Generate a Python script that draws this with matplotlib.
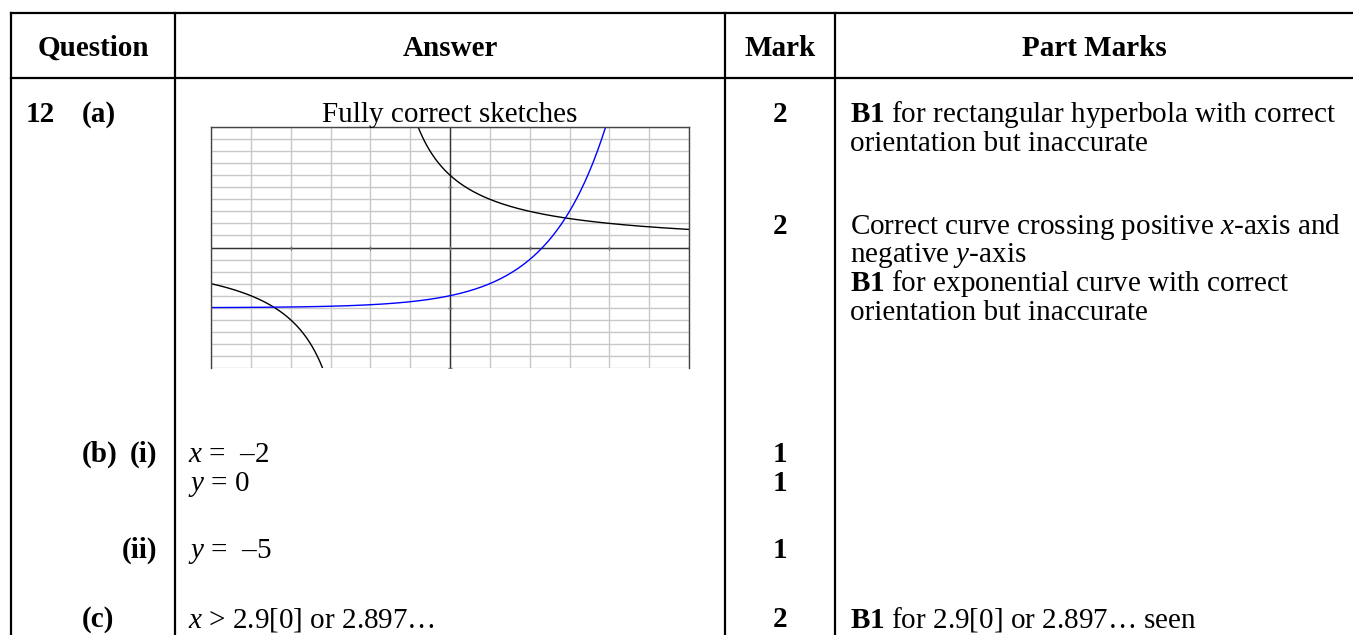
import numpy as np
import matplotlib
matplotlib.use("Agg")
import matplotlib.pyplot as plt
from matplotlib.lines import Line2D

plt.rcParams['font.family'] = ['Liberation Serif', 'DejaVu Serif']
plt.rcParams['mathtext.fontset'] = 'custom'
plt.rcParams['mathtext.rm'] = 'Liberation Serif'
plt.rcParams['mathtext.it'] = 'Liberation Serif:italic'
plt.rcParams['mathtext.bf'] = 'Liberation Serif:bold'

W, H = 1353, 635

# table content
headers = ['Question', 'Answer', 'Mark', 'Part Marks']
question_labels = ['12', '(a)', '(b)', '(i)', '(ii)', '(c)']
answer_lines = ['$\\mathit{x}$ =  –2', '$\\mathit{y}$ = 0', '$\\mathit{y}$ =  –5',
                '$\\mathit{x}$ > 2.9[0] or 2.897…']
marks = ['2', '2', '1', '1', '1', '2']
part_marks = ['$\\mathbf{B1}$ for rectangular hyperbola with correct',
              'orientation but inaccurate',
              'Correct curve crossing positive $\\mathit{x}$-axis and',
              'negative $\\mathit{y}$-axis',
              '$\\mathbf{B1}$ for exponential curve with correct',
              'orientation but inaccurate',
              '$\\mathbf{B1}$ for 2.9[0] or 2.897… seen']

# sketch: y = k/(x - a) and y = b**x + c
hyp_k = 12
hyp_asym_x = -2
exp_base = 2
exp_asym_y = -5
x_range = (-6, 6)
y_range = (-10, 10)

fig = plt.figure(figsize=(W / 100, H / 100), dpi=100)


def fx(x):
    return x / W


def fy(y):
    return 1 - y / H


def put(x, y, s, **kw):
    fig.text(fx(x), fy(y), s, fontsize=21, va='baseline', **kw)


# table rules
for x in [11, 175, 725, 835]:
    fig.add_artist(Line2D([fx(x), fx(x)], [fy(13), fy(H + 5)], color='black', lw=1.6))
for y in [13, 78]:
    fig.add_artist(Line2D([fx(11), fx(W + 5)], [fy(y), fy(y)], color='black', lw=1.6))

# header
head_x = [93, 450, 780, 1094]
for s, x in zip(headers, head_x):
    put(x, 56, s, ha='center', fontweight='bold')

# question column
put(26, 122, question_labels[0], fontweight='bold')
put(82, 122, question_labels[1], fontweight='bold')
put(82, 462, question_labels[2], fontweight='bold')
put(157, 462, question_labels[3], fontweight='bold', ha='right')
put(157, 558, question_labels[4], fontweight='bold', ha='right')
put(82, 627, question_labels[5], fontweight='bold')

# answer column
put(450, 122, 'Fully correct sketches', ha='center')
for s, y in zip(answer_lines, [462, 491, 558, 627]):
    put(188, y, s)

# mark column
for s, y in zip(marks, [122, 234, 462, 491, 558, 627]):
    put(780, y, s, ha='center', fontweight='bold')

# part marks column
for s, y in zip(part_marks, [122, 151, 234, 262, 291, 320, 627]):
    put(850, y, s)

# the embedded graph
ax = fig.add_axes([fx(211), fy(368), fx(689) - fx(211), fy(127) - fy(368)])
ax.set_xlim(*x_range)
ax.set_ylim(*y_range)
for gx in np.arange(x_range[0], x_range[1] + 1):
    ax.axvline(gx, color='#c8c8c8', lw=1.0, zorder=0)
for gy in np.arange(y_range[0], y_range[1] + 1):
    ax.axhline(gy, color='#c8c8c8', lw=1.0, zorder=0)
ax.axhline(0, color='#333333', lw=1.0, zorder=1)
ax.axvline(0, color='#333333', lw=1.0, zorder=1)
ax.plot(np.arange(-4, 7, 2), np.zeros(6), '|', color='#777777', ms=3)
ax.plot(np.zeros(3), [5, -5, -10], '_', color='#777777', ms=3)

xl = np.linspace(x_range[0], hyp_asym_x - 0.01, 400)
xr = np.linspace(hyp_asym_x + 0.01, x_range[1], 400)
ax.plot(xl, hyp_k / (xl - hyp_asym_x), color='black', lw=1.0, zorder=2)
ax.plot(xr, hyp_k / (xr - hyp_asym_x), color='black', lw=1.0, zorder=2)
xe = np.linspace(x_range[0], x_range[1], 600)
ax.plot(xe, exp_base ** xe + exp_asym_y, color='#0000ff', lw=1.0, zorder=2)

ax.set_xticks([])
ax.set_yticks([])
for side in ['top', 'left', 'right']:
    ax.spines[side].set_color('#444444')
    ax.spines[side].set_linewidth(1.0)
ax.spines['bottom'].set_visible(False)

fig.savefig('out.png', dpi=100)
